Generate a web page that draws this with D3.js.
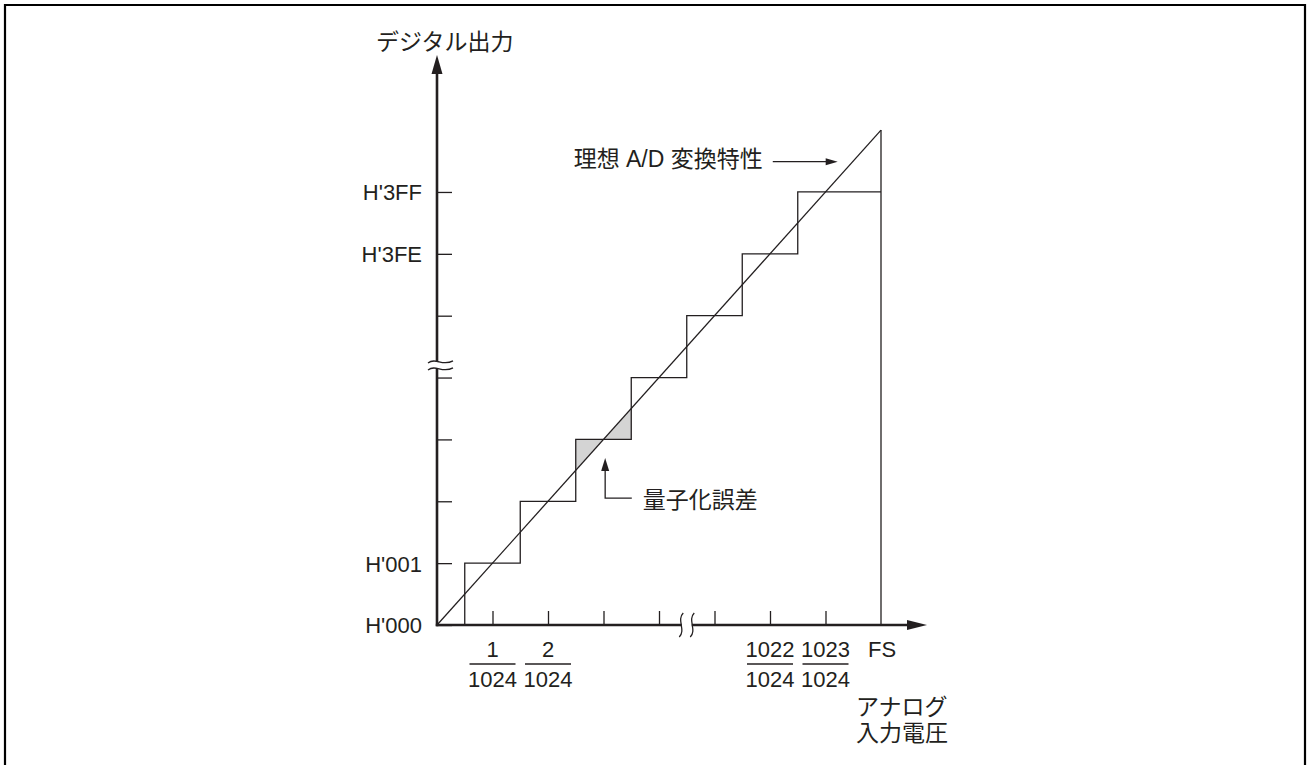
<!DOCTYPE html>
<html>
<head>
<meta charset="utf-8">
<script src="https://cdn.jsdelivr.net/npm/d3@7"></script>
<style>
  body { margin: 0; background: #fff; }
  text { font-family: "Liberation Sans", "Noto Sans CJK JP", sans-serif; fill: #231f20; }
  .tick line { stroke: #231f20; stroke-width: 1.3; }
</style>
</head>
<body>
<svg id="chart" width="1308" height="765"></svg>
<script>
// steps of the converter (x in LSB units, 8 = FS)
const stepEdges = [0.5, 1.5, 2.5, 3.5, 4.5, 5.5, 6.5, 8];
const stepLevels = [1, 2, 3, 4, 5, 6, 7];
const idealLine = [[0, 0], [8, 8]];

// y ticks and their labels
const yTicks = [0, 1, 2, 3, 4, 5, 6, 7];
const yLabels = {0: "H'000", 1: "H'001", 6: "H'3FE", 7: "H'3FF"};

// x ticks and fraction labels
const xTicks = [1, 2, 3, 4, 5, 6, 7];
const xNumerators = {1: "1", 2: "2", 6: "1022", 7: "1023"};
const xDenominator = "1024";

// quantization error triangles around level 3
const errorTriangles = [
  [[2.5, 2.5], [2.5, 3], [3, 3]],
  [[3, 3], [3.5, 3], [3.5, 3.5]]
];

const yBreak = 4.18, xBreak = 4.5;

const svg = d3.select("#chart"),
  ink = "#231f20";

// outer frame (left, top, right)
svg.append("path")
    .attr("d", "M5,770 L5,5 L1305,5 L1305,770")
    .attr("fill", "none")
    .attr("stroke", "#000")
    .attr("stroke-width", 2.2);

const x = d3.scaleLinear().domain([0, 8]).range([437, 881]);
const y = d3.scaleLinear().domain([0, 8]).range([625, 130.1]);

const g = svg.append("g");

// shaded error
g.selectAll(".err")
  .data(errorTriangles)
  .enter().append("path")
    .attr("class", "err")
    .attr("d", d => d3.line().x(p => x(p[0])).y(p => y(p[1]))(d) + "Z")
    .attr("fill", "#d4d4d4")
    .attr("stroke", "none");

// staircase
const stairs = [[stepEdges[0], 0]];
stepLevels.forEach((lv, i) => {
  stairs.push([stepEdges[i], lv]);
  stairs.push([stepEdges[i + 1], lv]);
});
g.append("path")
    .datum(stairs)
    .attr("d", d3.line().x(d => x(d[0])).y(d => y(d[1])))
    .attr("fill", "none")
    .attr("stroke", ink)
    .attr("stroke-width", 1.3);

// FS vertical
g.append("line")
    .attr("x1", x(8)).attr("x2", x(8))
    .attr("y1", y(0)).attr("y2", y(8))
    .attr("stroke", ink).attr("stroke-width", 1.3);

// ideal characteristic
g.append("path")
    .datum(idealLine)
    .attr("d", d3.line().x(d => x(d[0])).y(d => y(d[1])))
    .attr("fill", "none")
    .attr("stroke", ink)
    .attr("stroke-width", 1.3);

// axes ticks
const yAxis = svg.append("g")
    .attr("transform", "translate(" + x(0) + ",0)")
    .call(d3.axisLeft(y).tickValues(yTicks)
      .tickSizeInner(-15).tickSizeOuter(0).tickPadding(15)
      .tickFormat(d => yLabels[d] || ""));
yAxis.select(".domain").remove();
yAxis.selectAll("text")
    .attr("font-size", 22)
    .attr("font-family", "Liberation Sans, sans-serif")
    .attr("fill", ink)
    .attr("dy", "0.36em");

const xAxis = svg.append("g")
    .attr("transform", "translate(0," + y(0) + ")")
    .call(d3.axisBottom(x).tickValues(xTicks)
      .tickSizeInner(-14).tickSizeOuter(0).tickFormat(""));
xAxis.select(".domain").remove();

// axis lines with arrowheads
const yTop = 55, xRight = 927;
svg.append("line")
    .attr("x1", x(0)).attr("x2", x(0))
    .attr("y1", y(0) + 1.2).attr("y2", yTop + 10)
    .attr("stroke", ink).attr("stroke-width", 2.6);
svg.append("line")
    .attr("x1", x(0) - 1.2).attr("x2", xRight - 10)
    .attr("y1", y(0)).attr("y2", y(0))
    .attr("stroke", ink).attr("stroke-width", 2.6);
svg.append("path")
    .attr("d", `M${x(0)},${yTop} L${x(0) - 5.5},${yTop + 19} L${x(0) + 5.5},${yTop + 19}Z`)
    .attr("fill", ink);
svg.append("path")
    .attr("d", `M${xRight},${y(0)} L${xRight - 20},${y(0) - 5} L${xRight - 20},${y(0) + 5}Z`)
    .attr("fill", ink);

// y-axis break
const yb = y(yBreak), ybx = x(0) + 2;
svg.append("path")
    .attr("d", `M${ybx - 11},${yb - 3} C${ybx - 3},${yb - 9} ${ybx + 3},${yb + 1} ${ybx + 14},${yb - 5}
               L${ybx + 14},${yb + 2} C${ybx + 3},${yb + 8} ${ybx - 3},${yb - 2} ${ybx - 11},${yb + 4}Z`)
    .attr("fill", "#fff");
[-3.5, 3.5].forEach(o => {
  svg.append("path")
      .attr("d", `M${ybx - 11},${yb + o} C${ybx - 3},${yb + o - 6} ${ybx + 3},${yb + o + 4} ${ybx + 14},${yb + o - 2}`)
      .attr("fill", "none").attr("stroke", ink).attr("stroke-width", 1.3);
});

// x-axis break
const xb = x(xBreak), xby = y(0);
svg.append("rect")
    .attr("x", xb - 5).attr("y", xby - 3).attr("width", 10).attr("height", 6)
    .attr("fill", "#fff");
[-5.5, 5.5].forEach(o => {
  svg.append("path")
      .attr("d", `M${xb + o + 2},${xby - 12} C${xb + o - 5},${xby - 5} ${xb + o + 5},${xby + 5} ${xb + o - 2},${xby + 12}`)
      .attr("fill", "none").attr("stroke", ink).attr("stroke-width", 1.3);
});

// x fraction labels
const frac = svg.append("g").attr("font-size", 22).attr("text-anchor", "middle");
Object.keys(xNumerators).forEach(k => {
  const cx = x(+k);
  frac.append("text").attr("x", cx).attr("y", 657).text(xNumerators[k]);
  frac.append("line")
      .attr("x1", cx - 23).attr("x2", cx + 23)
      .attr("y1", 664).attr("y2", 664)
      .attr("stroke", ink).attr("stroke-width", 1.3);
  frac.append("text").attr("x", cx).attr("y", 687).text(xDenominator);
});
frac.append("text").attr("x", x(8) + 1).attr("y", 657).text("FS");

// axis titles
svg.append("text")
    .attr("x", x(0) - 61).attr("y", 50)
    .attr("font-size", 23)
    .text("デジタル出力");
svg.append("text")
    .attr("x", x(8) - 25).attr("y", 715)
    .attr("font-size", 23)
    .text("アナログ");
svg.append("text")
    .attr("x", x(8) - 25).attr("y", 741)
    .attr("font-size", 23)
    .text("入力電圧");

// ideal characteristic annotation
const ia = {x0: 6.05, x1: 7.22, y: 7.49};
svg.append("line")
    .attr("x1", x(ia.x0)).attr("x2", x(ia.x1) - 10)
    .attr("y1", y(ia.y)).attr("y2", y(ia.y))
    .attr("stroke", ink).attr("stroke-width", 1.3);
svg.append("path")
    .attr("d", `M${x(ia.x1)},${y(ia.y)} L${x(ia.x1) - 12},${y(ia.y) - 3.5} L${x(ia.x1) - 12},${y(ia.y) + 3.5}Z`)
    .attr("fill", ink);
svg.append("text")
    .attr("x", x(ia.x0) - 10).attr("y", y(ia.y) + 5.5)
    .attr("font-size", 23)
    .attr("text-anchor", "end")
    .text("理想 A/D 変換特性");

// quantization error annotation
const qa = {x: 3.03, x1: 3.51, y0: 2.05, y1: 2.70};
svg.append("path")
    .attr("d", `M${x(qa.x1)},${y(qa.y0)} L${x(qa.x)},${y(qa.y0)} L${x(qa.x)},${y(qa.y1) + 10}`)
    .attr("fill", "none").attr("stroke", ink).attr("stroke-width", 1.3);
svg.append("path")
    .attr("d", `M${x(qa.x)},${y(qa.y1)} L${x(qa.x) - 4},${y(qa.y1) + 13} L${x(qa.x) + 4},${y(qa.y1) + 13}Z`)
    .attr("fill", ink);
svg.append("text")
    .attr("x", x(qa.x1) + 11).attr("y", y(qa.y0) + 10)
    .attr("font-size", 23)
    .text("量子化誤差");
</script>
</body>
</html>
